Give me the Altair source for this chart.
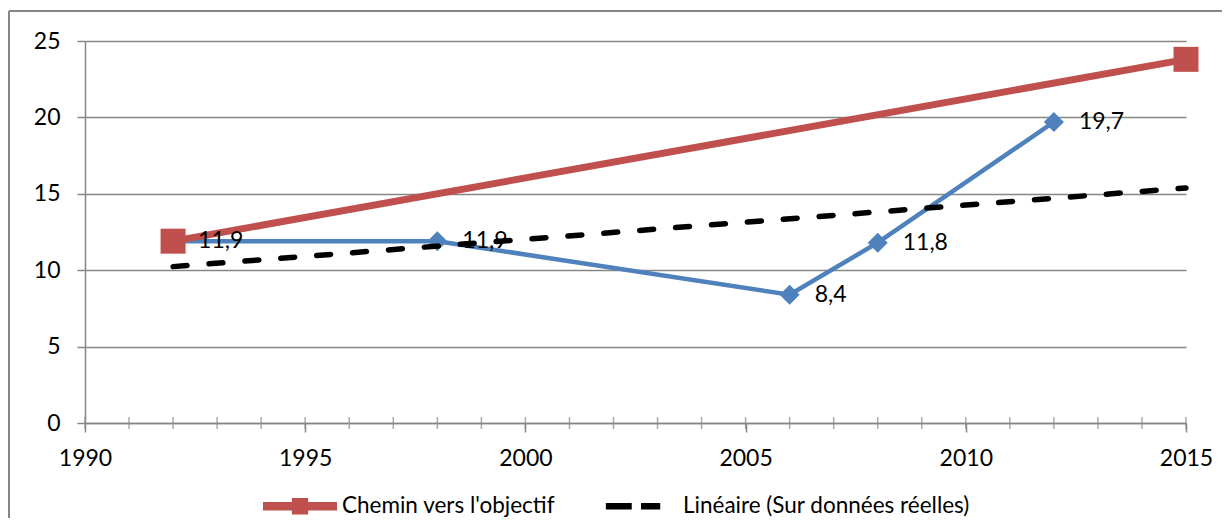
import altair as alt
import pandas as pd

# ---- data ----
goal_years = [1992, 2015]
goal_values = [11.9, 23.8]
goal_name = "Chemin vers l'objectif"

real_years = [1992, 1998, 2006, 2008, 2012]
real_values = [11.9, 11.9, 8.4, 11.8, 19.7]
trend_name = "Linéaire (Sur données réelles)"

x_major = [1990, 1995, 2000, 2005, 2010, 2015]
x_minor = list(range(1990, 2016))
y_ticks = [0, 5, 10, 15, 20, 25]

RED = "#C0504D"
BLUE = "#4F81BD"
GRAY = "#868686"
FONT = "Lato"

goal_df = pd.DataFrame({"year": goal_years, "value": goal_values, "serie": goal_name})
real_df = pd.DataFrame({"year": real_years, "value": real_values})
minor_df = pd.DataFrame({"year": x_minor})

xs = alt.Scale(domain=[1990, 2015], nice=False, zero=False)
ys = alt.Scale(domain=[0, 25], nice=False)

red_path = "M-1,-0.115H1V0.115H-1Z M-0.22,-0.22H0.22V0.22H-0.22Z"
dash_path = "M-0.95,-0.085H-0.25V0.085H-0.95Z M0,-0.085H0.52V0.085H0Z"

legend = alt.Legend(
    title=None,
    orient="none",
    direction="horizontal",
    legendX=178,
    legendY=428,
    padding=0,
    symbolSize=5476,
    symbolStrokeWidth=0,
    symbolOpacity=1,
    labelOffset=5,
    labelLimit=500,
    columnPadding=48,
    labelFont=FONT,
    labelFontSize=22.5,
    labelColor="#000000",
)

X = alt.X("year:Q", scale=xs, title=None)
Y = alt.Y("value:Q", scale=ys, title=None)

x_enc = alt.X("year:Q", scale=xs, title=None,
              axis=alt.Axis(values=x_major, format="d", grid=False, tickSize=9,
                            labelPadding=15, labelFlush=False))
y_enc = alt.Y("value:Q", scale=ys, title=None,
              axis=alt.Axis(values=y_ticks, grid=True, tickSize=8, labelPadding=17))

base_real = alt.Chart(real_df)

blue_line = base_real.mark_line(color=BLUE, strokeWidth=4.5).encode(x=x_enc, y=y_enc)
blue_pts = base_real.mark_point(shape="diamond", filled=True, size=400, color=BLUE, opacity=1).encode(x=X, y=Y)

red_line = alt.Chart(goal_df).mark_line(strokeWidth=7, color=RED).encode(x=X, y=Y)
red_pts = alt.Chart(goal_df).mark_square(size=625, color=RED, opacity=1, filled=True).encode(x=X, y=Y)

trend = base_real.transform_regression(
    "year", "value", method="linear", extent=[1992, 2015]
).mark_line(strokeWidth=5.5, strokeDash=[14, 22], strokeCap="round", color="#000000").encode(x=X, y=Y)

labels = base_real.transform_calculate(
    lab="replace(format(datum.value, '.1f'), '.', ',')"
).mark_text(align="left", baseline="middle", dx=25, font=FONT, fontSize=23, color="#000000").encode(
    x=X, y=Y, text="lab:N")

minor_ticks = alt.Chart(minor_df).mark_tick(orient="vertical", size=12, thickness=1.5, color=GRAY).encode(
    x=X, y=alt.datum(0, scale=ys))

# legend carrier: draws nothing, only provides the legend entries
legend_layer = alt.Chart(goal_df).transform_filter("false").mark_point(filled=True, opacity=1).encode(
    x=X, y=Y,
    color=alt.Color("serie:N", scale=alt.Scale(domain=[goal_name, trend_name], range=[RED, "#000000"]),
                    legend=legend),
    shape=alt.Shape("serie:N", scale=alt.Scale(domain=[goal_name, trend_name], range=[red_path, dash_path]),
                    legend=legend),
)

border_top = alt.Chart(minor_df).mark_rule(color=GRAY, strokeWidth=1.5).encode(
    x=alt.value(-76), x2=alt.value(1140), y=alt.value(-30))
border_left = alt.Chart(minor_df).mark_rule(color=GRAY, strokeWidth=1.5).encode(
    x=alt.value(-76), y=alt.value(-30), y2=alt.value(490))

chart = alt.layer(
    blue_line, minor_ticks, blue_pts, red_line, red_pts, trend, labels, legend_layer,
    border_top, border_left
).properties(
    width=1101, height=382,
    autosize=alt.AutoSizeParams(type="none"),
    padding={"left": 77, "top": 33, "right": 36, "bottom": 95},
).configure_view(stroke=None).configure_axis(
    labelFont=FONT, labelFontSize=23, labelColor="#000000",
    domainColor=GRAY, domainWidth=1.5, tickColor=GRAY, tickWidth=1.5,
    gridColor=GRAY, gridWidth=1.3,
).configure_axisX(grid=False)

chart.save("out.html", embed_options={"renderer": "svg", "actions": False})
